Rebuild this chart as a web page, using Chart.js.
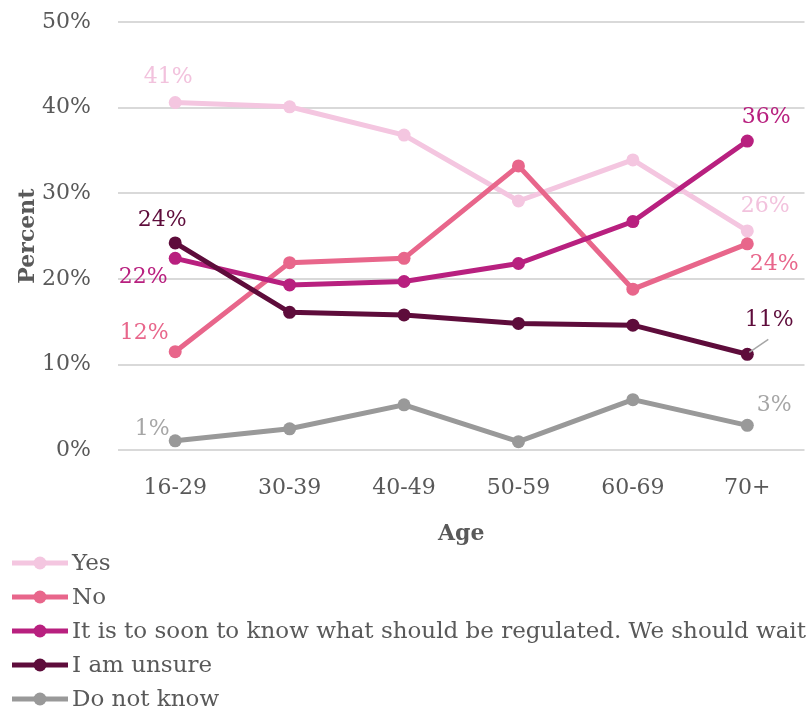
<!DOCTYPE html>
<html>
<head>
<meta charset="utf-8">
<title>Regulation opinion by age</title>
<script src="https://cdn.jsdelivr.net/npm/chart.js@4/dist/chart.umd.min.js"></script>
<style>
    html, body { margin: 0; padding: 0; background: #fff; }
    #wrap { width: 811px; height: 711px; position: relative; }
</style>
</head>
<body>
<div id="wrap"><canvas id="ageChart"></canvas></div>
<script>
// --- data ---
const ageGroups = ['16-29', '30-39', '40-49', '50-59', '60-69', '70+'];
const yesValues = [40.6, 40.1, 36.8, 29.1, 33.9, 25.6];
const noValues = [11.5, 21.9, 22.4, 33.2, 18.8, 24.1];
const tooSoonValues = [22.4, 19.3, 19.7, 21.8, 26.7, 36.1];
const unsureValues = [24.2, 16.1, 15.8, 14.8, 14.6, 11.2];
const dontKnowValues = [1.1, 2.5, 5.3, 1.0, 5.9, 2.9];
const seriesNames = ['Yes', 'No', 'It is to soon to know what should be regulated. We should wait', 'I am unsure', 'Do not know'];
const yTickValues = [0, 10, 20, 30, 40, 50];

const FONT = '"DejaVu Serif", "Liberation Serif", serif';
const TEXT = '#595959';
const lineColors = ['#F4C6E0', '#E8668B', '#B8207F', '#5E0C3B', '#999999'];
const labelColors = ['#F2C2DD', '#E8668B', '#B8207F', '#5E0C3B', '#A6A6A6'];

// where the first/last value labels sit relative to their point
const endLabelOffsets = [
    [[-7, -25], [18, -25]],
    [[-31, -18], [27, 20]],
    [[-32, 19], [19, -24]],
    [[-13, -23], [22, -34]],
    [[-23, -11], [27, -20]]
];

const allValues = [yesValues, noValues, tooSoonValues, unsureValues, dontKnowValues];

const datasets = allValues.map((vals, i) => ({
    label: seriesNames[i],
    data: vals,
    borderColor: lineColors[i],
    backgroundColor: lineColors[i],
    pointBackgroundColor: lineColors[i],
    pointBorderWidth: 0,
    pointRadius: 6.5,
    borderWidth: 5,
    tension: 0,
    order: allValues.length - i
}));

const endLabels = {
    id: 'endLabels',
    afterDatasetsDraw(chart) {
        const ctx = chart.ctx;
        ctx.save();
        ctx.font = '22px ' + FONT;
        ctx.textAlign = 'center';
        ctx.textBaseline = 'middle';
        chart.data.datasets.forEach((ds, i) => {
            const meta = chart.getDatasetMeta(i);
            const ends = [0, ds.data.length - 1];
            ends.forEach((idx, k) => {
                const pt = meta.data[idx];
                const [dx, dy] = endLabelOffsets[i][k];
                // leader line for the small 70+ "unsure" label
                if (i === 3 && k === 1) {
                    ctx.strokeStyle = '#A6A6A6';
                    ctx.lineWidth = 1.5;
                    ctx.beginPath();
                    ctx.moveTo(pt.x + 2, pt.y - 2);
                    ctx.lineTo(pt.x + 21, pt.y - 15);
                    ctx.stroke();
                }
                ctx.fillStyle = labelColors[i];
                ctx.fillText(Math.round(ds.data[idx]) + '%', pt.x + dx, pt.y + dy);
            });
        });
        ctx.restore();
    }
};

const stackedLegend = {
    id: 'stackedLegend',
    afterDraw(chart) {
        const ctx = chart.ctx;
        ctx.save();
        ctx.font = '23px ' + FONT;
        ctx.textBaseline = 'middle';
        chart.data.datasets.forEach((ds, i) => {
            const y = 563 + i * 34;
            ctx.strokeStyle = lineColors[i];
            ctx.lineWidth = 5;
            ctx.beginPath();
            ctx.moveTo(12, y);
            ctx.lineTo(68, y);
            ctx.stroke();
            ctx.fillStyle = lineColors[i];
            ctx.beginPath();
            ctx.arc(40, y, 6.5, 0, Math.PI * 2);
            ctx.fill();
            ctx.fillStyle = TEXT;
            ctx.fillText(ds.label, 72, y + 1);
        });
        ctx.restore();
    }
};

new Chart(document.getElementById('ageChart'), {
    type: 'line',
    data: { labels: ageGroups, datasets },
    options: {
        responsive: true,
        maintainAspectRatio: false,
        animation: false,
        layout: { padding: { top: 22, right: 5, bottom: 160, left: 15 } },
        plugins: {
            legend: { display: false },
            tooltip: { enabled: false }
        },
        scales: {
            x: {
                offset: true,
                grid: { display: false },
                border: { display: false },
                ticks: { color: TEXT, font: { family: FONT, size: 22 }, padding: 17 },
                title: { display: true, text: 'Age', color: TEXT, font: { family: FONT, size: 22, weight: 'bold' }, padding: { top: 2 } }
            },
            y: {
                min: 0,
                max: 50,
                afterBuildTicks: s => { s.ticks = yTickValues.map(v => ({ value: v })); },
                afterFit: s => { s.width = 103; s.paddingTop = 0; s.paddingBottom = 0; },
                grid: { color: '#D9D9D9', lineWidth: 2, drawTicks: false },
                border: { display: false },
                ticks: { color: TEXT, font: { family: FONT, size: 22 }, padding: 27, callback: v => v + '%' },
                title: { display: true, text: 'Percent', color: TEXT, font: { family: FONT, size: 22, weight: 'bold' }, padding: 0 }
            }
        }
    },
    plugins: [endLabels, stackedLegend]
});
</script>
</body>
</html>
